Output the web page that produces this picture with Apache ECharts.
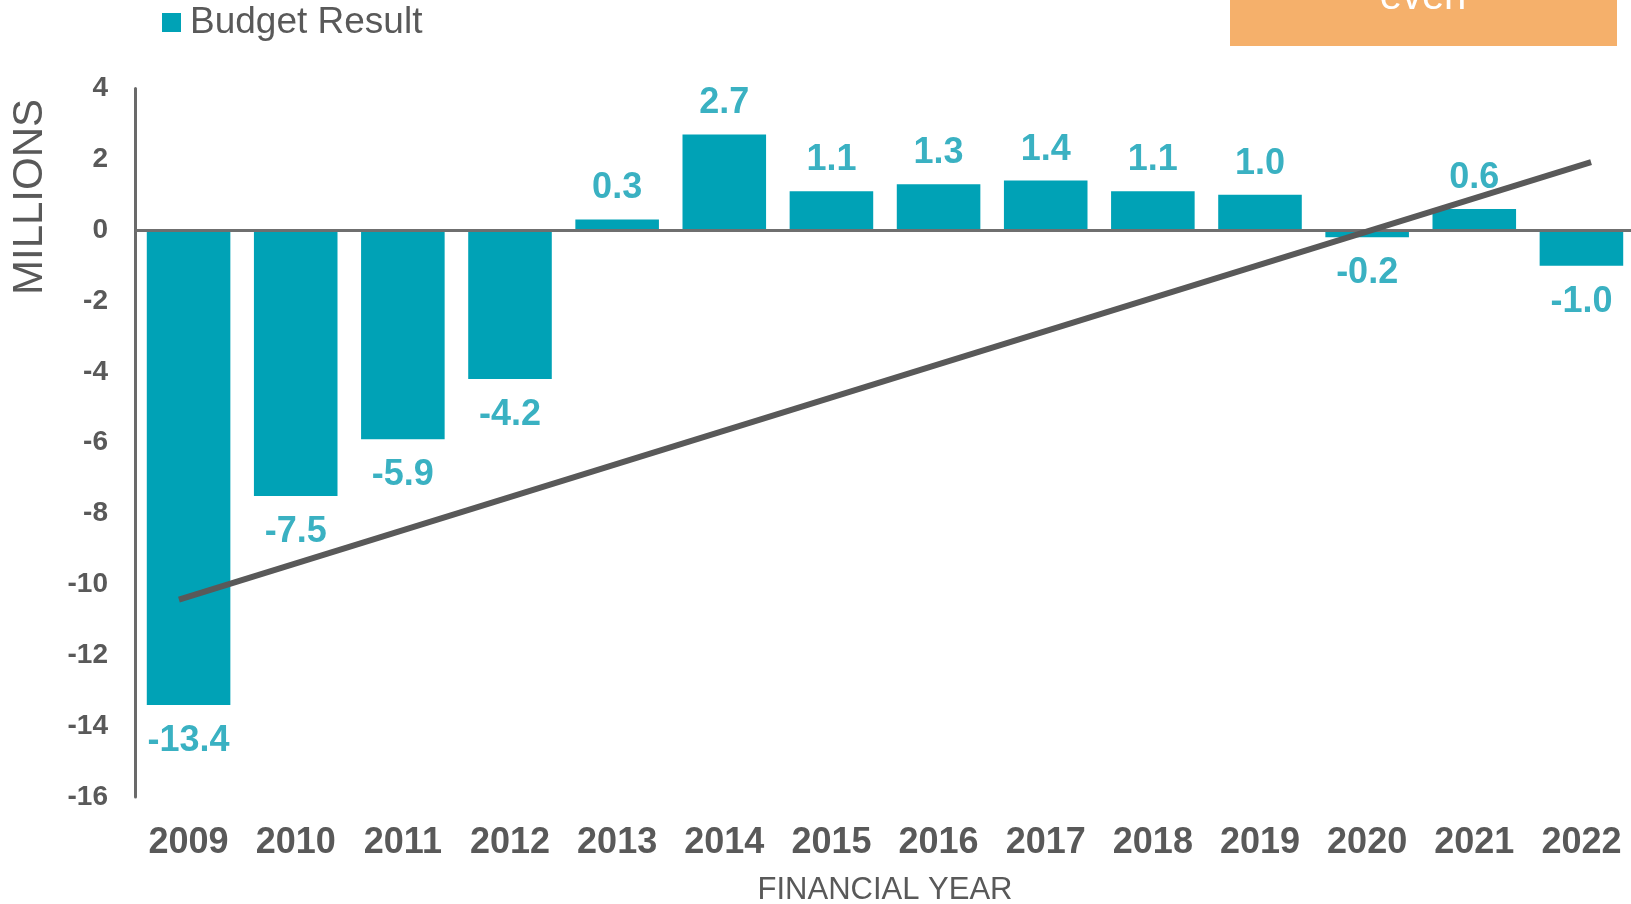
<!DOCTYPE html>
<html>
<head>
<meta charset="utf-8">
<title>Budget Result</title>
<script src="https://cdn.jsdelivr.net/npm/echarts@6/dist/echarts.min.js"></script>
<style>
  html, body { margin: 0; padding: 0; background: #fff; overflow: hidden; }
  /* a bit wider than the window so the last category is not squeezed */
  #chart { width: 1660px; height: 904px; }
</style>
</head>
<body>
<div id="chart"></div>
<script>
// financial years and budget result (millions)
const years = ['2009', '2010', '2011', '2012', '2013', '2014', '2015', '2016', '2017', '2018', '2019', '2020', '2021', '2022'];
const budget = [-13.4, -7.5, -5.9, -4.2, 0.3, 2.7, 1.1, 1.3, 1.4, 1.1, 1.0, -0.2, 0.6, -1.0];
// trend line end points (x in category units)
const trendX = [0.41, 13.59];
const trendY = [-10.43, 1.92];

const teal = '#00A2B6';
const labelTeal = '#3AB1C2';
const grey = '#595959';
const font = '"Liberation Sans", Arial, sans-serif';

let myChart = echarts.init(document.getElementById('chart'));
let option = {
  animation: false,
  textStyle: { fontFamily: font },
  legend: {
    data: ['Budget Result'],
    left: 157,
    top: -1,
    icon: 'rect',
    itemWidth: 19,
    itemHeight: 19,
    textStyle: { fontSize: 37, color: grey, padding: [0, 0, 0, 4], fontFamily: font }
  },
  grid: {
    left: 135,
    top: 88.5,
    width: 1500,
    height: 708.5,
    outerBoundsMode: 'none'
  },
  xAxis: [
    {
      type: 'category',
      data: years,
      axisLine: { show: false, onZero: false },
      axisTick: { show: false },
      axisLabel: { fontSize: 36, fontWeight: 'bold', color: grey, margin: 28, fontFamily: font },
      name: 'FINANCIAL YEAR',
      nameLocation: 'middle',
      nameGap: 78,
      nameTextStyle: { fontSize: 31, color: grey, fontFamily: font }
    },
    {
      type: 'value',
      min: 0,
      max: 14,
      show: false
    }
  ],
  yAxis: {
    type: 'value',
    min: -16,
    max: 4,
    interval: 2,
    axisLine: { show: true, lineStyle: { color: '#6a6a6a', width: 3 } },
    axisTick: { show: false },
    splitLine: { show: false },
    axisLabel: { fontSize: 28, fontWeight: 'bold', color: grey, margin: 27, padding: [4, 0, 0, 0], fontFamily: font }
  },
  graphic: [
    {
      type: 'text',
      x: 30,
      y: 197,
      rotation: Math.PI / 2,
      style: { text: 'MILLIONS', fontSize: 42, fill: grey, align: 'center', verticalAlign: 'middle', fontFamily: font }
    },
    {
      type: 'rect',
      shape: { x: 1230, y: 0, width: 387, height: 46 },
      style: { fill: '#F5B06B' }
    },
    {
      type: 'text',
      x: 1423,
      y: -2,
      style: { text: 'even', fontSize: 40, fill: '#fff', align: 'center', verticalAlign: 'middle', fontFamily: font }
    }
  ],
  series: [
    {
      name: 'Budget Result',
      type: 'bar',
      barCategoryGap: '22%',
      itemStyle: { color: teal },
      label: {
        show: true,
        fontSize: 36,
        fontWeight: 'bold',
        color: labelTeal,
        fontFamily: font,
        formatter: p => p.value.toFixed(1)
      },
      data: budget.map(v => ({
        value: v,
        label: v < 0 ? { position: 'bottom', distance: 18 } : { position: 'top', distance: 13 }
      })),
      markLine: {
        silent: true,
        symbol: 'none',
        label: { show: false },
        lineStyle: { color: '#6f6f6f', width: 3, type: 'solid' },
        data: [{ yAxis: 0 }]
      }
    },
    {
      name: 'Trend',
      type: 'line',
      xAxisIndex: 1,
      symbol: 'none',
      z: 5,
      lineStyle: { color: grey, width: 6 },
      data: trendX.map((x, i) => [x, trendY[i]])
    }
  ]
};
myChart.setOption(option, true);
window.addEventListener('resize', () => {
  myChart.resize();
});
</script>
</body>
</html>
